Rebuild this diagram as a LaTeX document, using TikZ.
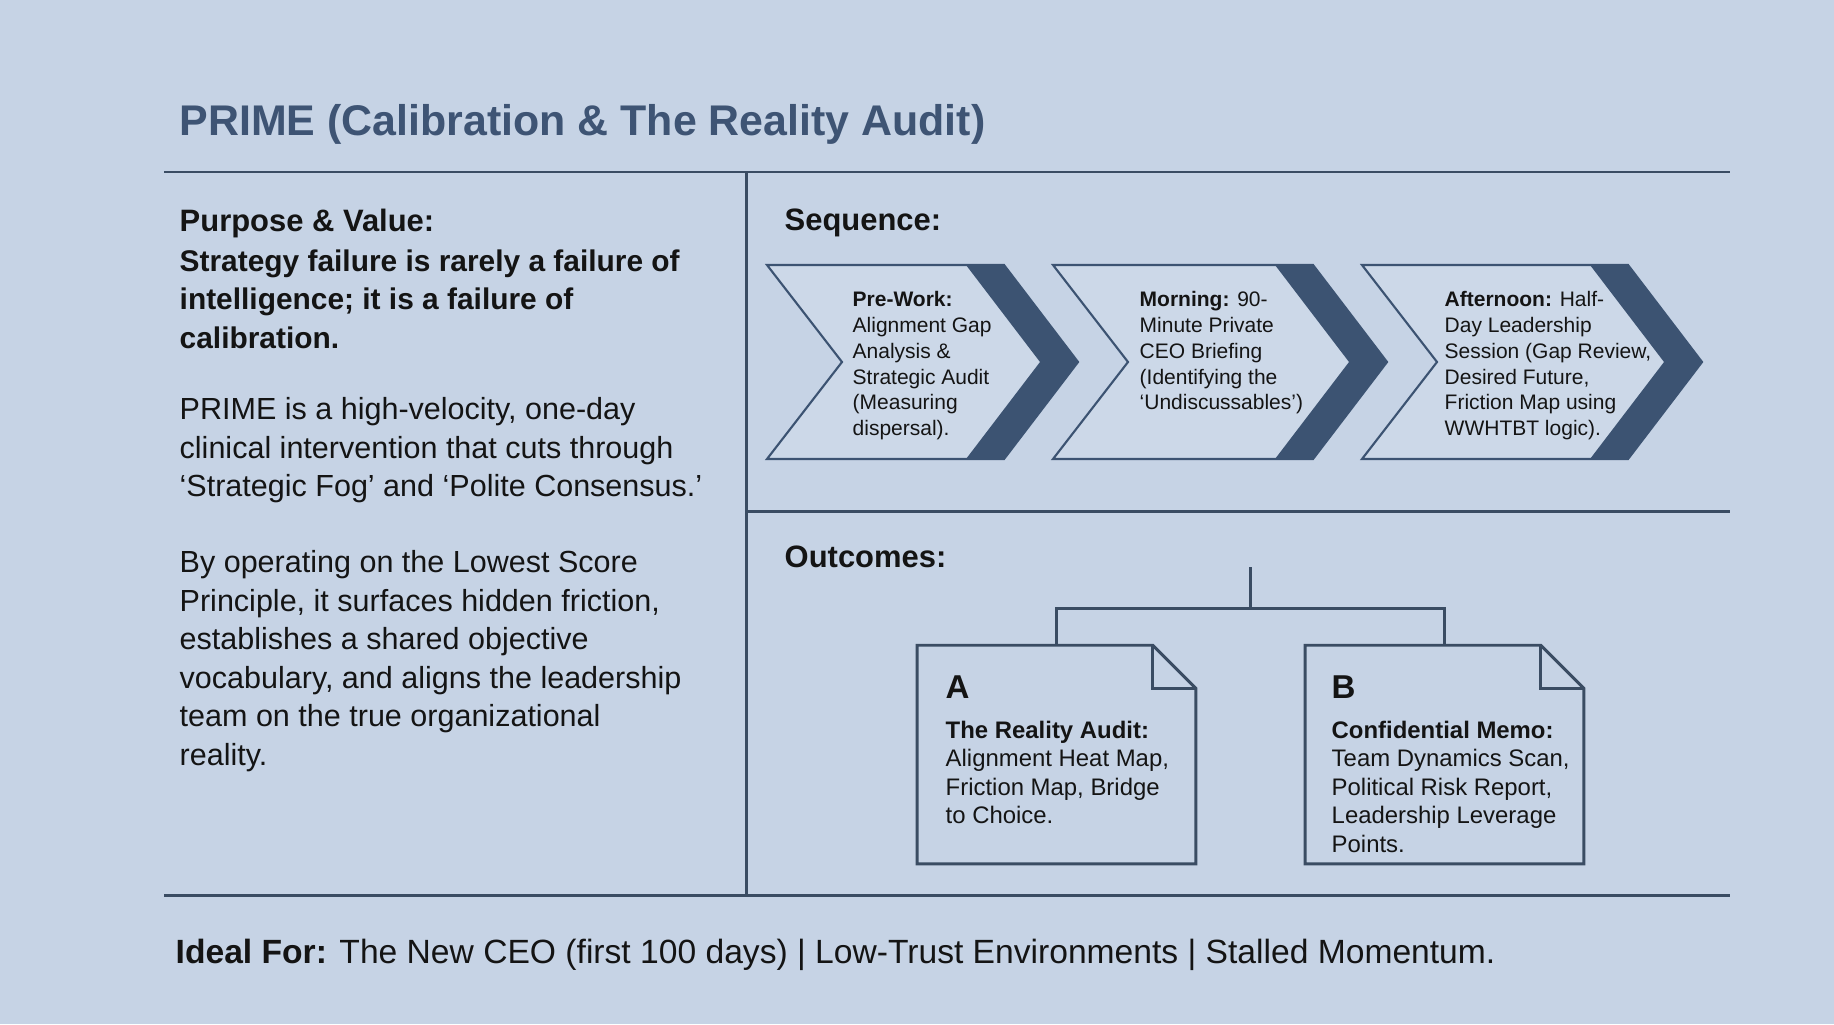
\documentclass[tikz,border=0pt]{standalone}
\usepackage{fontspec}
\setmainfont{Liberation Sans}

\definecolor{bgblue}{HTML}{C6D3E5}
\definecolor{chevfill}{HTML}{CCD8E8}
\definecolor{bandblue}{HTML}{3C5372}
\definecolor{rulecol}{HTML}{3A4C63}
\definecolor{titleblue}{HTML}{3E5474}
\definecolor{ink}{HTML}{141414}

\tikzset{
  txt/.style={anchor=north west, inner sep=0pt, align=left, text=ink},
  titletxt/.style={txt, text=titleblue, font=\bfseries\fontsize{12.2pt}{14pt}\selectfont},
  headtxt/.style={txt, font=\bfseries\fontsize{8.8pt}{10.6pt}\selectfont},
  leadtxt/.style={txt, font=\bfseries\fontsize{8.5pt}{10.98pt}\selectfont},
  bodytxt/.style={txt, font=\fontsize{8.68pt}{10.95pt}\selectfont},
  steptxt/.style={txt, font=\fontsize{5.97pt}{7.31pt}\selectfont},
  doctxt/.style={txt, font=\fontsize{6.8pt}{8.11pt}\selectfont},
  docletter/.style={txt, font=\bfseries\fontsize{9.4pt}{11pt}\selectfont},
  foottxt/.style={txt, font=\fontsize{9.56pt}{11.5pt}\selectfont},
  framerule/.style={draw=rulecol, line width=0.85pt},
  docbox/.style={draw=none, inner sep=0pt, minimum width=2.77cm, minimum height=2.17cm},
}

\begin{document}
\begin{tikzpicture}[x=0.01cm, y=-0.01cm, >=stealth]

    % --- Background ---
    \fill[bgblue] (0,0) rectangle (1834,1024);
    \useasboundingbox (0,0) rectangle (1834,1024);

    % --- Title ---
    \node[titletxt] (ttl) at (179,104) {PRIME (Calibration \& The Reality Audit)};

    % --- Frame rules ---
    \draw[framerule] (164,172) -- (1730,172);
    \draw[framerule] (746,172) -- (746,895);
    \draw[framerule] (746,511) -- (1730,511);
    \draw[framerule] (164,895) -- (1730,895);

    % --- Left column ---
    \node[headtxt] (purp) at (179,208) {Purpose \& Value:};
    \node[leadtxt] (lead) at (179,249) {Strategy failure is rarely a failure of\\
        intelligence; it is a failure of\\ calibration.};
    \node[bodytxt] (para1) at (179,397) {PRIME is a high-velocity, one-day\\
        clinical intervention that cuts through\\
        ‘Strategic Fog’ and ‘Polite Consensus.’};
    \node[bodytxt] (para2) at (179,550) {By operating on the Lowest Score\\
        Principle, it surfaces hidden friction,\\
        establishes a shared objective\\
        vocabulary, and aligns the leadership\\
        team on the true organizational\\ reality.};

    % --- Sequence ---
    \node[headtxt] (seq) at (784,208) {Sequence:};
    \foreach \xa/\xb in {767/1004, 1053/1313, 1362/1628} {
        \filldraw[fill=chevfill, draw=bandblue, line width=0.6pt]
            (\xa,265) -- (\xb,265) -- (\xb+74,362) -- (\xb,459)
            -- (\xa,459) -- (\xa+75,362) -- cycle;
        \fill[bandblue]
            (\xb-38,265) -- (\xb,265) -- (\xb+74,362) -- (\xb,459)
            -- (\xb-38,459) -- (\xb+36,362) -- cycle;
    }
    \node[steptxt] (prework) at (852,291) {\textbf{Pre-Work:}\\ Alignment Gap\\
        Analysis \&\\ Strategic Audit\\ (Measuring\\ dispersal).};
    \node[steptxt] (morning) at (1139,291) {\textbf{Morning:} 90-\\ Minute Private\\
        CEO Briefing\\ (Identifying the\\ ‘Undiscussables’)};
    \node[steptxt] (afternoon) at (1444,291) {\textbf{Afternoon:} Half-\\ Day Leadership\\
        Session (Gap Review,\\ Desired Future,\\ Friction Map using\\ WWHTBT logic).};

    % --- Outcomes ---
    \node[headtxt] (outc) at (784,545) {Outcomes:};
    \node[docbox] (docA) at (1056.5,754.5) {};
    \node[docbox] (docB) at (1444.5,754.5) {};
    \coordinate (otop) at (1250,567);
    \coordinate (ojoin) at (1250,608);

    \foreach \d in {docA, docB} {
        \draw[rulecol, line width=0.85pt, line join=miter]
            (\d.north west) -- ([xshift=-0.43cm]\d.north east)
            -- ([yshift=-0.43cm]\d.north east) -- (\d.south east)
            -- (\d.south west) -- cycle;
        \draw[rulecol, line width=0.85pt]
            ([xshift=-0.43cm]\d.north east) |- ([yshift=-0.43cm]\d.north east);
    }
    \draw[rulecol, line width=0.85pt] (otop) -- (ojoin);
    \draw[rulecol, line width=0.85pt]
        (docA.north) -- (docA.north |- ojoin) -- (docB.north |- ojoin) -- (docB.north);

    \node[docletter] (lblA) at (945,675) {A};
    \node[doctxt] (txtA) at (945,720) {\textbf{The Reality Audit:}\\ Alignment Heat Map,\\
        Friction Map, Bridge\\ to Choice.};
    \node[docletter] (lblB) at (1331,675) {B};
    \node[doctxt] (txtB) at (1331,720) {\textbf{Confidential Memo:}\\ Team Dynamics Scan,\\
        Political Risk Report,\\ Leadership Leverage\\ Points.};

    % --- Footer ---
    \node[foottxt] (ideal) at (175,938) {\textbf{Ideal For:} The New CEO (first 100 days) | Low-Trust Environments | Stalled Momentum.};

\end{tikzpicture}
\end{document}
